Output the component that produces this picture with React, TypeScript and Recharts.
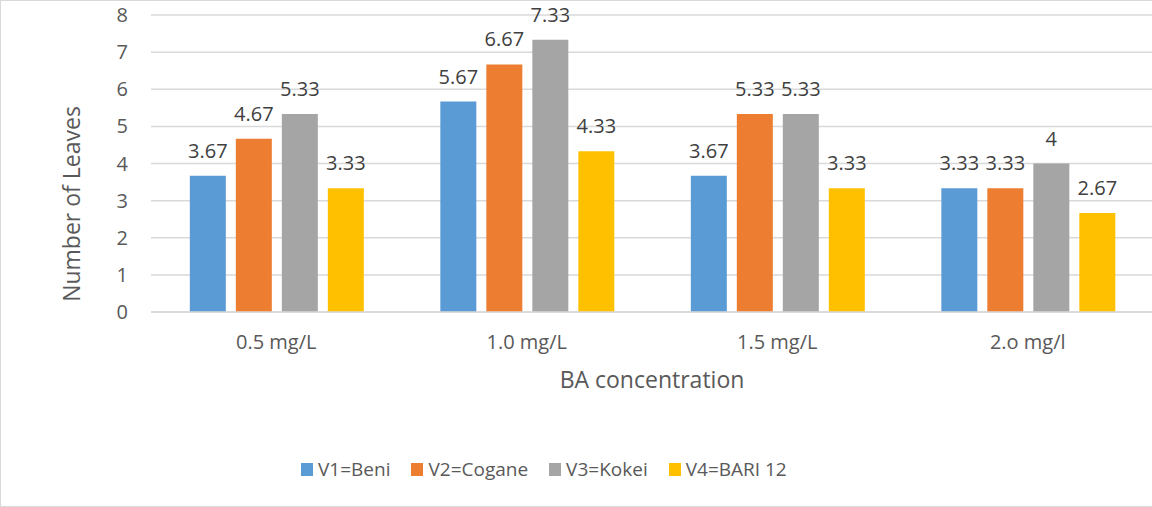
import React from "react";
import { BarChart, Bar, XAxis, YAxis, CartesianGrid, LabelList, Label } from "recharts";

const categories = ["0.5 mg/L", "1.0 mg/L", "1.5 mg/L", "2.o mg/l"];
const v1Beni = [3.67, 5.67, 3.67, 3.33];
const v2Cogane = [4.67, 6.67, 5.33, 3.33];
const v3Kokei = [5.33, 7.33, 5.33, 4];
const v4Bari = [3.33, 4.33, 3.33, 2.67];
const seriesNames = ["V1=Beni", "V2=Cogane", "V3=Kokei", "V4=BARI 12"];
const seriesKeys = ["v1", "v2", "v3", "v4"];
const colors = ["#5B9BD5", "#ED7D31", "#A5A5A5", "#FFC000"];
const yTicks = [0, 1, 2, 3, 4, 5, 6, 7, 8];

const data = categories.map((c, i) => ({
  name: c,
  v1: v1Beni[i],
  v2: v2Cogane[i],
  v3: v3Kokei[i],
  v4: v4Bari[i],
}));

const FONT = "'Open Sans', sans-serif";
const TEXT = "#595959";

const YTitle = () => (
  <text
    x={80}
    y={204}
    transform="rotate(-90 80 204)"
    textAnchor="middle"
    fill={TEXT}
    fontSize={23}
    fontFamily={FONT}
  >
    Number of Leaves
  </text>
);

export default function App() {
  return (
    <div
      style={{
        position: "fixed",
        left: 0,
        top: 0,
        width: 1152,
        height: 507,
        background: "#fff",
        fontFamily: FONT,
        boxSizing: "border-box",
        borderLeft: "1px solid #d9d9d9",
        borderTop: "1px solid #d9d9d9",
        borderBottom: "1px solid #d9d9d9",
        overflow: "hidden",
      }}
    >
      <div style={{ position: "absolute", left: -1, top: -1 }}>
        <BarChart
          width={1153}
          height={507}
          data={data}
          margin={{ top: 15, right: 0, bottom: 115, left: 91 }}
          barGap={10}
          barCategoryGap="15.5%"
        >
          <CartesianGrid vertical={false} stroke="#d9d9d9" strokeWidth={1.5} />
          <XAxis
            dataKey="name"
            height={80}
            axisLine={{ stroke: "#d9d9d9", strokeWidth: 1.5 }}
            tickLine={false}
            tickSize={0}
            tickMargin={23}
            tick={{ fill: TEXT, fontSize: 20, fontFamily: FONT }}
          >
            <Label
              value="BA concentration"
              position="insideBottom"
              offset={4}
              style={{ fill: TEXT, fontSize: 23, fontFamily: FONT }}
            />
          </XAxis>
          <YAxis
            width={60}
            domain={[0, 8]}
            ticks={yTicks}
            interval={0}
            axisLine={false}
            tickLine={false}
            tickSize={0}
            tickMargin={23}
            tick={{ fill: TEXT, fontSize: 20, fontFamily: FONT }}
          >
            <Label content={<YTitle />} />
          </YAxis>
          {seriesKeys.map((k, i) => (
            <Bar key={k} dataKey={k} name={seriesNames[i]} fill={colors[i]} isAnimationActive={false}>
              <LabelList
                dataKey={k}
                position="top"
                offset={18}
                style={{ fill: "#404040", fontSize: 20, fontFamily: FONT }}
              />
            </Bar>
          ))}
        </BarChart>
      </div>
      <div
        style={{
          position: "absolute",
          left: 300,
          top: 453,
          display: "flex",
          alignItems: "center",
          height: 30,
        }}
      >
        {seriesNames.map((n, i) => (
          <div key={n} style={{ display: "flex", alignItems: "center", marginRight: 21 }}>
            <div style={{ width: 12, height: 13, background: colors[i], marginRight: 5 }} />
            <span style={{ color: TEXT, fontSize: 19, fontFamily: FONT, whiteSpace: "nowrap" }}>{n}</span>
          </div>
        ))}
      </div>
    </div>
  );
}
